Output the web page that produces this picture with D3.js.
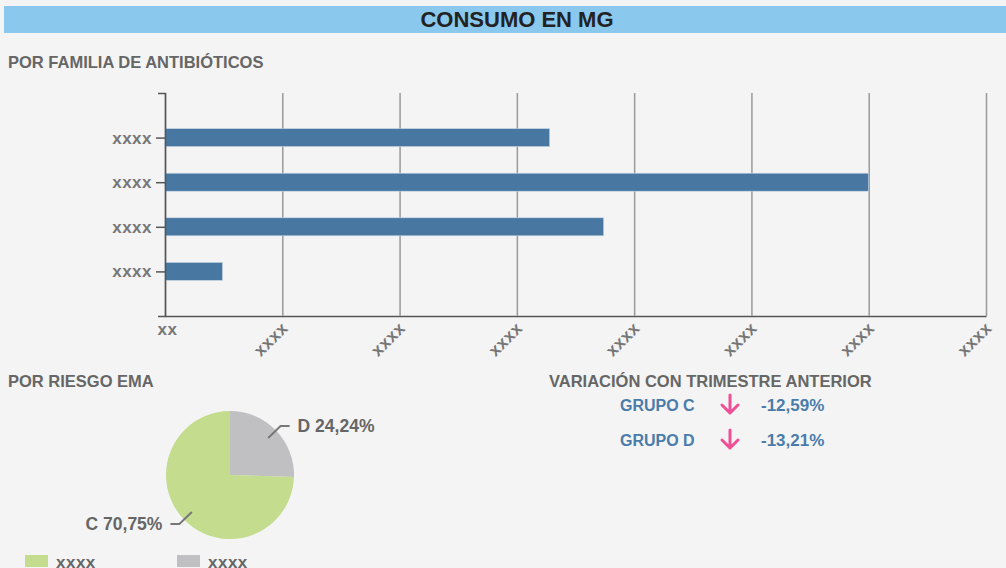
<!DOCTYPE html>
<html>
<head>
<meta charset="utf-8">
<script src="https://cdn.jsdelivr.net/npm/d3@7"></script>
<style>
  body { margin: 0; background: #f4f4f4; }
  svg { display: block; font-family: "Liberation Sans", Arial, sans-serif; }
  .head { font-weight: bold; fill: #666; font-size: 16.5px; }
  .axis text { font-weight: bold; fill: #777; font-size: 17px; letter-spacing: 0.5px; }
</style>
</head>
<body>
<svg id="chart" width="1006" height="568"></svg>
<script>
// bar chart data
const families = ["xxxx", "xxxx ", "xxxx  ", "xxxx   "];
const familyValues = [3.28, 6.0, 3.74, 0.49];
const xTickLabels = ["xx", "xxxx", "xxxx", "xxxx", "xxxx", "xxxx", "xxxx", "xxxx"];

// pie data
const riskGroups = ["D", "C"];
const riskShares = [24.24, 70.75];
const riskLabels = ["D 24,24%", "C 70,75%"];
const legendLabels = ["xxxx", "xxxx"];

// variation data
const variationGroups = ["GRUPO C", "GRUPO D"];
const variationValues = ["-12,59%", "-13,21%"];

const svg = d3.select("#chart");

// title bar
svg.append("rect")
  .attr("x", 4).attr("y", 6)
  .attr("width", 1002).attr("height", 27)
  .attr("fill", "#8ac8ee");
svg.append("text")
  .attr("x", 517).attr("y", 27)
  .attr("text-anchor", "middle")
  .style("font-weight", "bold")
  .style("font-size", "22px")
  .style("fill", "#222")
  .text("CONSUMO EN MG");

svg.append("text").attr("class", "head")
  .attr("x", 8).attr("y", 68)
  .text("POR FAMILIA DE ANTIBIÓTICOS");

// --- bar chart ---
const x = d3.scaleLinear().domain([0, 7]).range([165, 986]);
const y = d3.scalePoint().domain(families).range([93, 316]).padding(1);

const xAxis = svg.append("g")
  .attr("class", "axis")
  .attr("transform", "translate(0,316)")
  .call(d3.axisBottom(x).ticks(7).tickSize(-223).tickSizeOuter(0)
    .tickFormat((d, i) => xTickLabels[i]));

xAxis.select(".domain").attr("stroke", "#555").attr("stroke-width", 1.5);
xAxis.selectAll(".tick line").attr("stroke", "#999").attr("stroke-width", 1.5);
xAxis.selectAll(".tick text")
  .attr("text-anchor", (d, i) => i === 0 ? "middle" : "end")
  .attr("transform", (d, i) => i === 0 ? "translate(2,0)" : "translate(2,9) rotate(-45)")
  .attr("y", (d, i) => i === 0 ? 7 : 0)
  .attr("dy", (d, i) => i === 0 ? "0.71em" : "0.35em");

svg.append("g")
  .selectAll("rect")
  .data(familyValues)
  .join("rect")
  .attr("x", x(0))
  .attr("y", (d, i) => y(families[i]) - 9)
  .attr("width", d => x(d) - x(0))
  .attr("height", 18)
  .attr("fill", "#4878a2")
  .attr("stroke", "#c9d8e6")
  .attr("stroke-width", 0.6);

const yAxis = svg.append("g")
  .attr("class", "axis")
  .attr("transform", "translate(165,0)")
  .call(d3.axisLeft(y).tickSize(9).tickSizeOuter(7).tickPadding(4));
yAxis.select(".domain").attr("stroke", "#555").attr("stroke-width", 1.5);
yAxis.selectAll(".tick line").attr("stroke", "#555").attr("stroke-width", 1.5);
yAxis.selectAll(".tick text").text(d => d.trim());

// --- pie ---
svg.append("text").attr("class", "head")
  .attr("x", 8).attr("y", 387)
  .text("POR RIESGO EMA");

const radius = 64;
const pieColor = d3.scaleOrdinal().domain(riskGroups).range(["#c0c0c2", "#c3dc8e"]);
const pieG = svg.append("g").attr("transform", "translate(230,475)");
const pie = d3.pie().sort(null).value(d => d);
const arcs = pie(riskShares);
const arc = d3.arc().innerRadius(0).outerRadius(radius);
const inner = d3.arc().innerRadius(radius * 0.83).outerRadius(radius * 0.83);
const outer = d3.arc().innerRadius(radius * 1.1).outerRadius(radius * 1.1);
const isRight = d => (d.startAngle + d.endAngle) / 2 < Math.PI;

pieG.selectAll("path.slice")
  .data(arcs)
  .join("path")
  .attr("class", "slice")
  .attr("d", arc)
  .attr("fill", (d, i) => pieColor(riskGroups[i]));

pieG.selectAll("polyline")
  .data(arcs)
  .join("polyline")
  .attr("fill", "none")
  .attr("stroke", "#777")
  .attr("stroke-width", 2)
  .attr("points", d => {
    const a = inner.centroid(d), b = outer.centroid(d);
    return [a, b, [b[0] + (isRight(d) ? 9 : -9), b[1]]];
  });

pieG.selectAll("text")
  .data(arcs)
  .join("text")
  .attr("transform", d => {
    const b = outer.centroid(d);
    return `translate(${b[0] + (isRight(d) ? 17 : -17)},${b[1]})`;
  })
  .attr("dy", "0.35em")
  .attr("text-anchor", d => isRight(d) ? "start" : "end")
  .style("font-weight", "bold")
  .style("font-size", "17.5px")
  .style("fill", "#666")
  .text((d, i) => riskLabels[i]);

// legend (C first)
const legendOrder = ["C", "D"];
const legend = svg.append("g").selectAll("g")
  .data(legendOrder)
  .join("g")
  .attr("transform", (d, i) => `translate(${25 + i * 152},555)`);
legend.append("rect")
  .attr("width", 23).attr("height", 12)
  .attr("fill", d => pieColor(d));
legend.append("text")
  .attr("x", 31).attr("y", 13)
  .style("font-weight", "bold")
  .style("font-size", "17px")
  .style("fill", "#666")
  .style("letter-spacing", "0.5px")
  .text((d, i) => legendLabels[i]);

// --- variation ---
svg.append("text").attr("class", "head")
  .attr("x", 549).attr("y", 387)
  .text("VARIACIÓN CON TRIMESTRE ANTERIOR");

const vy = d3.scalePoint().domain(variationGroups).range([405, 440]);
const rows = svg.append("g").selectAll("g")
  .data(variationGroups)
  .join("g")
  .attr("transform", d => `translate(0,${vy(d)})`);
rows.append("text")
  .attr("x", 620).attr("dy", "0.35em")
  .style("font-weight", "bold").style("font-size", "16px")
  .style("fill", "#4a7cab")
  .text(d => d);
rows.append("path")
  .attr("d", "M730,-10V8M722,0L730,8L738,0")
  .attr("fill", "none")
  .attr("stroke", "#ef4f96")
  .attr("stroke-width", 3)
  .attr("stroke-linecap", "round")
  .attr("stroke-linejoin", "round");
rows.append("text")
  .attr("x", 761).attr("dy", "0.35em")
  .style("font-weight", "bold").style("font-size", "17px")
  .style("fill", "#4a7cab")
  .text((d, i) => variationValues[i]);
</script>
</body>
</html>
